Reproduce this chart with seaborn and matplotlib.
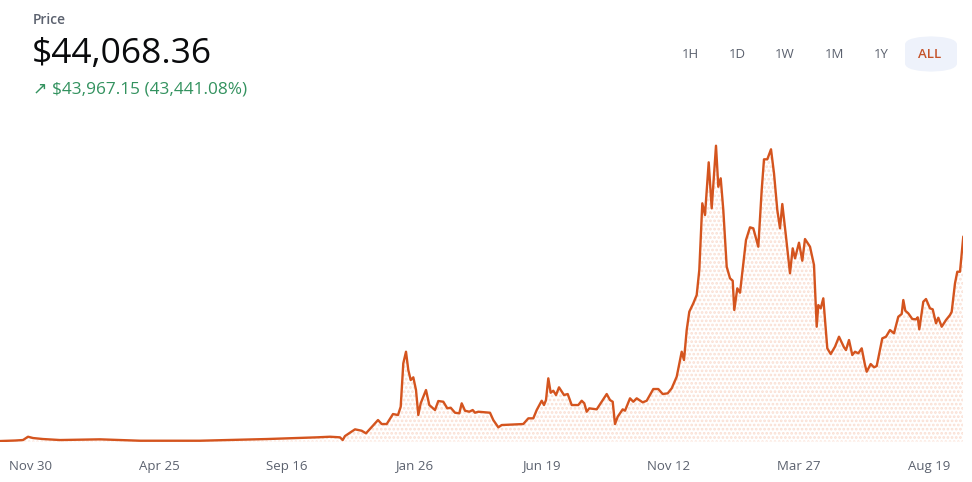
import matplotlib
matplotlib.use("Agg")
import matplotlib.pyplot as plt
from matplotlib.patches import FancyBboxPatch
import seaborn as sns
import pandas as pd

# time index (chart units) and price in USD
t = [0, 15, 23, 28, 33, 43, 60, 100, 140, 200, 267, 317, 330, 340, 342.7, 345,
     355, 361.7, 366, 378, 381.7, 386.7, 393, 398, 400.7, 403.3, 406, 408.3,
     410.7, 413.3, 416, 418.3, 420.7, 426, 429.3, 435, 438.3, 443.3, 447.3,
     450.7, 455, 459.3, 461.7, 465, 469.3, 472.7, 475, 478.3, 490, 493.3,
     498.3, 501.7, 523.3, 528.3, 533.3, 536.7, 541.7, 544, 546, 548.3, 550.7,
     553.3, 556, 559, 564, 567.7, 571.7, 578.3, 581.7, 584.3, 586.7, 589.3,
     596.7, 606.7, 610, 612.7, 615, 617.7, 622.7, 625, 630, 633.3, 636.7,
     642.7, 646.7, 653.3, 658.3, 662.7, 667.7, 671.7, 676.7, 681.7, 684,
     686.7, 689.3, 693.3, 696.7, 699.3, 702.3, 705, 708.7, 711.7, 716, 718.3,
     720.7, 723.3, 726.7, 730, 732.7, 734.3, 737.3, 740, 746, 750, 753.3,
     758.3, 761.7, 764, 767.3, 771, 774, 777.3, 780, 782.3, 786, 790, 792.7,
     795, 799, 802.3, 805, 810, 814, 816.7, 818.3, 820.7, 823.3, 827.3,
     830.7, 835, 839, 844, 846, 849, 852.3, 855, 858.3, 861.7, 865, 866.7,
     870.7, 874, 876.7, 882.3, 886, 890, 894, 898.3, 901.7, 903.3, 905.3,
     908.3, 912.3, 916, 917.7, 919.3, 923.3, 926, 930, 932.7, 936, 938.3,
     941.7, 946, 950, 951.7, 955, 957.3, 960, 963.3]
price = [101, 208, 315, 1025, 745, 530, 315, 465, 165, 165, 530, 895, 1025,
         895, 315, 1175, 2615, 2315, 1755, 4615, 3755, 3755, 5905, 5690, 7475,
         16805, 19300, 15365, 13215, 13795, 11065, 5690, 8205, 11065, 7840,
         6765, 8700, 8550, 7130, 7260, 6185, 6055, 8205, 6615, 6400, 6765,
         6185, 6400, 6185, 4615, 3045, 3540, 3755, 4980, 4980, 6765, 8765,
         7840, 8915, 13580, 10485, 10915, 9990, 11645, 9990, 10205, 7840,
         7840, 8765, 8205, 6400, 7130, 6915, 10205, 8915, 8550, 3755, 5325,
         6915, 6615, 9280, 8550, 9280, 8420, 8765, 11280, 11280, 10205, 10355,
         11430, 13925, 19300, 17515, 23965, 27900, 29705, 31490, 36865, 51205,
         48690, 60020, 50130, 63590, 54775, 56580, 49765, 37575, 35080, 34565,
         28265, 32930, 31985, 43315, 46045, 45830, 41875, 54065, 60665, 60665,
         62815, 57655, 49765, 45830, 51055, 44025, 36155, 41530, 39380, 42735,
         38865, 43530, 41875, 37940, 24675, 29340, 28630, 30780, 20030, 18805,
         20375, 22525, 20245, 19665, 21815, 18590, 19300, 18955, 20030, 16440,
         15000, 16655, 15945, 16225, 22180, 22525, 23965, 23255, 26825, 27405,
         30415, 28115, 27555, 26330, 26265, 26695, 24115, 30050, 30630, 28630,
         28415, 25405, 26610, 24675, 26115, 27190, 27900, 34005, 36500, 36500,
         44068]

tick_t = [30.7, 159.3, 287, 414, 541, 669, 799, 929]
tick_labels = ["Nov 30", "Apr 25", "Sep 16", "Jan 26", "Jun 19", "Nov 12",
               "Mar 27", "Aug 19"]
ranges = ["1H", "1D", "1W", "1M", "1Y", "ALL"]

df = pd.DataFrame({"t": t, "price": price})

sns.set_theme(style="white")
plt.rcParams["font.family"] = ["Open Sans", "DejaVu Sans"]

W, H = 972, 482
fig = plt.figure(figsize=(W / 100, H / 100), dpi=100)
fig.patch.set_facecolor("white")

ax_bottom = (H - 441.5) / H
ax_top = (H - 115.9) / H
ax = fig.add_axes([0, ax_bottom, 963.3 / W, ax_top - ax_bottom])
ax.set_facecolor("none")

line_color = "#d4541e"
plt.rcParams["hatch.linewidth"] = 1.3
ax.fill_between(df["t"], df["price"], 0, facecolor="none",
                edgecolor="#fadfd3", hatch="....", linewidth=0)
sns.lineplot(data=df, x="t", y="price", ax=ax, color=line_color,
             linewidth=1.7, legend=False)

ax.set_xlim(0, 963.3)
ax.set_ylim(0, 70000)
ax.set_xticks(tick_t)
ax.set_xticklabels(tick_labels)
ax.tick_params(axis="x", length=0, pad=13, labelsize=9.5, labelcolor="#5b616e")
ax.set_yticks([])
ax.set_xlabel("")
ax.set_ylabel("")
for s in ax.spines.values():
    s.set_visible(False)

# header texts
fig.text(33 / W, 1 - 19.5 / H, "Price", fontsize=10, color="#5b616e",
         fontweight="semibold", va="center", ha="left")
fig.text(32 / W, 1 - 54 / H, "$44,068.36", fontsize=25.5, color="#0a0b0d",
         va="center", ha="left")
fig.text(33 / W, 1 - 89 / H, "\u2197 $43,967.15 (43,441.08%)", fontsize=12.4,
         color="#33925f", va="center", ha="left",
         family=["Open Sans", "DejaVu Sans"])

# range selector
pill = FancyBboxPatch((905 / W, 1 - 72 / H), 52 / W, 36 / H,
                      boxstyle="round,pad=0,rounding_size=0.036",
                      transform=fig.transFigure, facecolor="#eef2fb",
                      edgecolor="none", mutation_aspect=H / W)
fig.patches.append(pill)
bx = [690, 737, 785, 834, 881, 930]
for lab, x in zip(ranges, bx):
    fig.text(x / W, 1 - 54 / H, lab, fontsize=9.5,
             color="#c4532a" if lab == "ALL" else "#5b616e",
             fontweight="semibold" if lab == "ALL" else "normal",
             ha="center", va="center")

fig.savefig("out.png", dpi=100)
